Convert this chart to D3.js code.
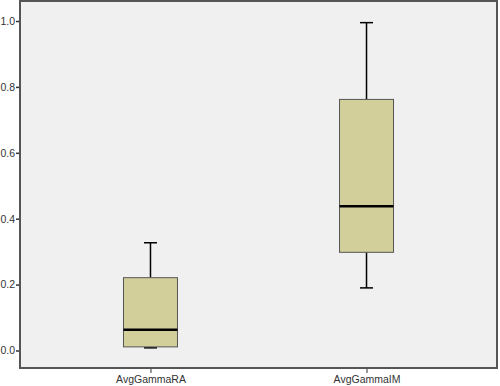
<!DOCTYPE html>
<html>
<head>
<meta charset="utf-8">
<script src="https://cdn.jsdelivr.net/npm/d3@7"></script>
<style>
body { margin: 0; background: #fff; }
text { font-family: "Liberation Sans", Arial, sans-serif; }
</style>
</head>
<body>
<div id="chart"></div>
<script>
// box plot data
var categories = ["AvgGammaRA", "AvgGammaIM"];
var whiskerLow  = [0.008, 0.19];
var q1          = [0.011, 0.298];
var medians     = [0.063, 0.438];
var q3          = [0.221, 0.762];
var whiskerHigh = [0.327, 0.995];
var yTicks = [0.0, 0.2, 0.4, 0.6, 0.8, 1.0];

var width = 500, height = 386;
var plotLeft = 20, plotRight = 497, plotTop = 1, plotBottom = 368;

var data = categories.map(function(c, i) {
    return { name: c, lo: whiskerLow[i], q1: q1[i], med: medians[i], q3: q3[i], hi: whiskerHigh[i] };
});

var x = d3.scalePoint().domain(categories).range([plotLeft, plotRight]).padding(0.604);
var y = d3.scaleLinear().domain([0, 1]).range([350.5, 21]);

var boxW = 54, capW = 13;

var svg = d3.select("#chart").append("svg")
    .attr("width", width)
    .attr("height", height);

// plot background
svg.append("rect")
    .attr("x", plotLeft).attr("y", plotTop)
    .attr("width", plotRight - plotLeft).attr("height", plotBottom - plotTop)
    .attr("fill", "#f0f0f0");

// y axis
var yAxis = svg.append("g")
    .attr("transform", "translate(" + plotLeft + ",0)")
    .call(d3.axisLeft(y).tickValues(yTicks).tickFormat(d3.format(".1f")).tickSize(4).tickPadding(1));
yAxis.select(".domain").remove();
yAxis.selectAll("line").attr("stroke", "#333").attr("stroke-width", 1.5);
yAxis.selectAll("text").attr("fill", "#333").style("font-size", "10.5px");

// x axis
var xAxis = svg.append("g")
    .attr("transform", "translate(0," + plotBottom + ")")
    .call(d3.axisBottom(x).tickSize(5).tickPadding(3));
xAxis.select(".domain").remove();
xAxis.selectAll("line").attr("stroke", "#333");
xAxis.selectAll("text").attr("fill", "#333").style("font-size", "10.5px");

// boxes
var g = svg.append("g").selectAll("g")
    .data(data)
    .enter()
    .append("g")
    .attr("transform", function(d) { return "translate(" + x(d.name) + ",0)"; });

g.append("line")
    .attr("x1", 0).attr("x2", 0)
    .attr("y1", function(d) { return y(d.q3); })
    .attr("y2", function(d) { return y(d.hi); })
    .attr("stroke", "#000").attr("stroke-width", 1.5);
g.append("line")
    .attr("x1", 0).attr("x2", 0)
    .attr("y1", function(d) { return y(d.q1); })
    .attr("y2", function(d) { return y(d.lo); })
    .attr("stroke", "#000").attr("stroke-width", 1.5);
g.append("line")
    .attr("x1", -capW / 2).attr("x2", capW / 2)
    .attr("y1", function(d) { return y(d.hi); })
    .attr("y2", function(d) { return y(d.hi); })
    .attr("stroke", "#000").attr("stroke-width", 1.5);
g.append("line")
    .attr("x1", -capW / 2).attr("x2", capW / 2)
    .attr("y1", function(d) { return y(d.lo); })
    .attr("y2", function(d) { return y(d.lo); })
    .attr("stroke", "#000").attr("stroke-width", 1.5);

g.append("rect")
    .attr("x", -boxW / 2)
    .attr("y", function(d) { return y(d.q3); })
    .attr("width", boxW)
    .attr("height", function(d) { return y(d.q1) - y(d.q3); })
    .attr("fill", "#d3cf9b")
    .attr("stroke", "#555")
    .attr("stroke-width", 1);

g.append("line")
    .attr("x1", -boxW / 2).attr("x2", boxW / 2)
    .attr("y1", function(d) { return y(d.med); })
    .attr("y2", function(d) { return y(d.med); })
    .attr("stroke", "#000").attr("stroke-width", 2.5);

// frame
svg.append("rect")
    .attr("x", plotLeft).attr("y", plotTop)
    .attr("width", plotRight - plotLeft).attr("height", plotBottom - plotTop)
    .attr("fill", "none")
    .attr("stroke", "#555").attr("stroke-width", 2);
</script>
</body>
</html>
